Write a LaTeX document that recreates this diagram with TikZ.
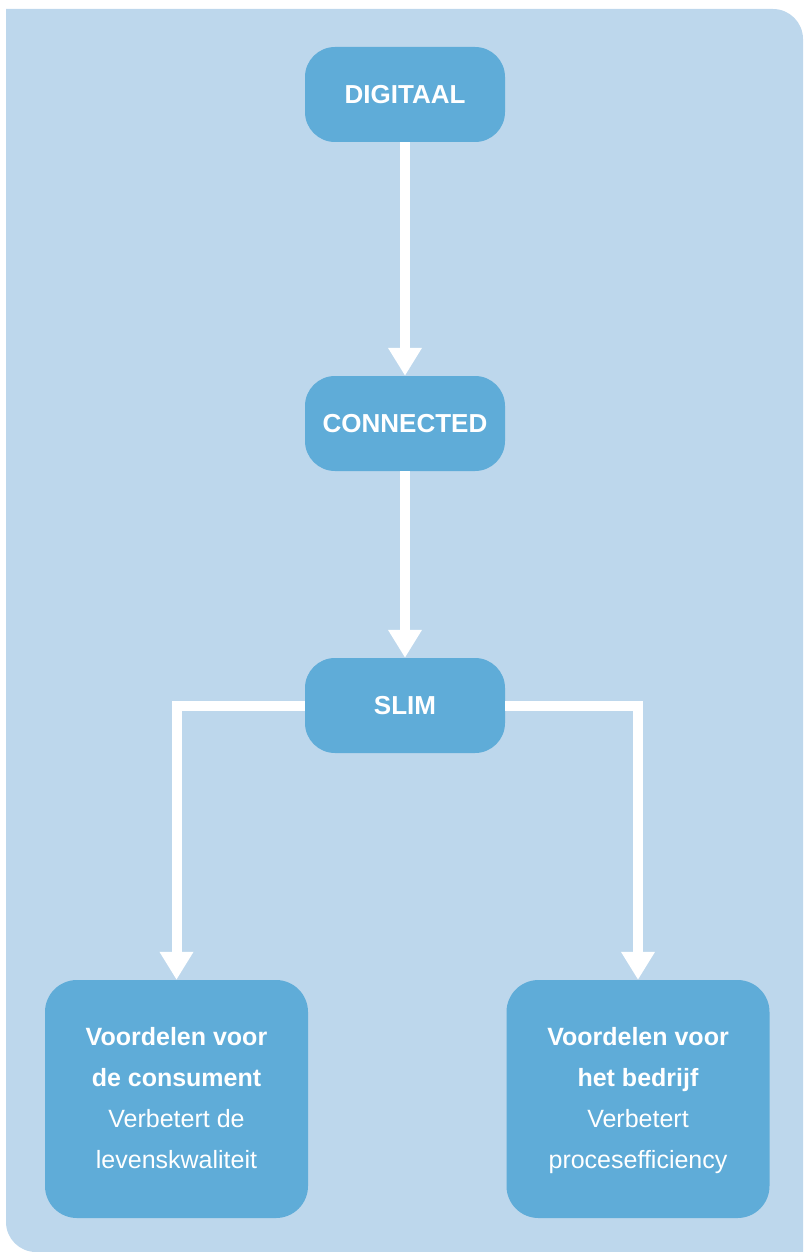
\documentclass[tikz,border=0pt]{standalone}
\usepackage{fontspec}
\setmainfont{Liberation Sans}
\usetikzlibrary{arrows.meta}
\definecolor{bgblue}{HTML}{BDD7EC}
\definecolor{boxblue}{HTML}{5FACD8}
\tikzset{
  stepbox/.style={rectangle, rounded corners=30pt, fill=boxblue, text=white,
    minimum width=200pt, minimum height=95pt, inner sep=0pt,
    font=\fontsize{26pt}{30pt}\selectfont\bfseries},
  bigbox/.style={rectangle, rounded corners=32pt, fill=boxblue, text=white,
    minimum width=263pt, minimum height=238pt, inner sep=0pt, align=center,
    font=\fontsize{25pt}{41pt}\selectfont},
  arr/.style={draw=white, line width=10pt,
    -{Triangle[width=32pt,length=28pt]}}
}
\begin{document}
\begin{tikzpicture}[x=1pt,y=-1pt]
\useasboundingbox (0,0) rectangle (803,1252);
\fill[bgblue] (6,9) -- (773,9) arc[start angle=270,end angle=360,radius=30] -- (803,1252) -- (36,1252) arc[start angle=90,end angle=180,radius=30] -- cycle;
\node[stepbox] (d) at (405,94.5) {DIGITAAL};
\node[stepbox] (c) at (405,423.5) {CONNECTED};
\node[stepbox] (s) at (405,705.5) {SLIM};
\node[bigbox] (l) at (176.5,1099) {\strut\textbf{Voordelen voor}\\\textbf{de consument}\\Verbetert de\\levenskwaliteit\strut};
\node[bigbox] (r) at (638,1099) {\strut\textbf{Voordelen voor}\\\textbf{het bedrijf}\\Verbetert\\procesefficiency\strut};
\draw[arr] (d) -- (c);
\draw[arr] (c) -- (s);
\draw[arr] (s.west) -| (l.north);
\draw[arr] (s.east) -| (r.north);
\end{tikzpicture}
\end{document}
